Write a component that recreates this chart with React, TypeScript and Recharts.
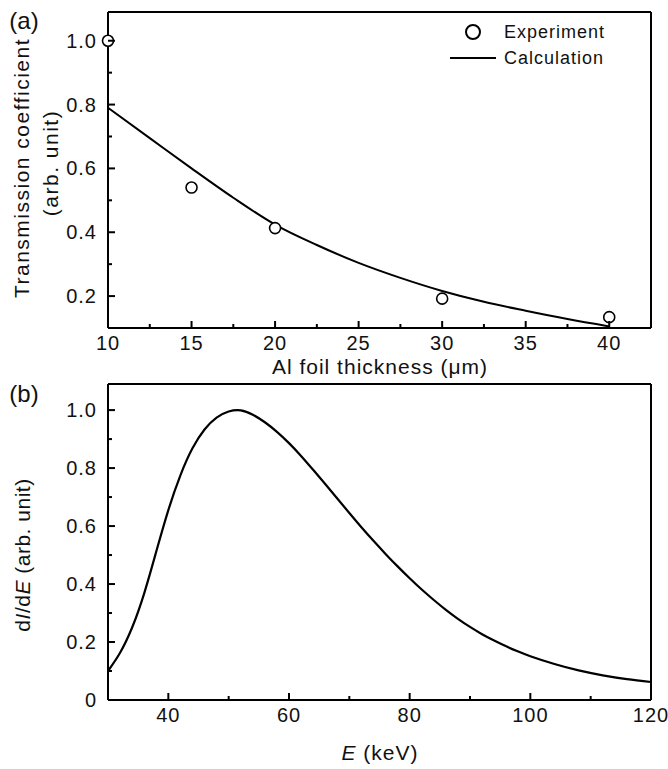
import { ComposedChart, LineChart, Line, Scatter, XAxis, YAxis, Legend } from "recharts";

// (a) transmission through Al foils
const thicknessExp = [10, 15, 20, 30, 40];
const transmissionExp = [1.0, 0.54, 0.413, 0.192, 0.134];
const thicknessCalc = [10, 12.5, 15, 17.5, 20, 22.5, 25, 27.5, 30, 32.5, 35, 37.5, 40];
const transmissionCalc = [0.79, 0.695, 0.6, 0.508, 0.424, 0.36, 0.304, 0.257, 0.216, 0.182, 0.154, 0.128, 0.105];

// (b) spectrum dI/dE
const energy = [30, 32, 34, 36, 38, 40, 42, 44, 46, 48, 50, 52, 54, 56, 58, 60, 62, 64, 66, 68, 70, 72, 74, 76, 78, 80, 82, 84, 86, 88, 90, 92, 94, 96, 98, 100, 104, 108, 112, 116, 120];
const spectrum = [0.1, 0.163, 0.25, 0.368, 0.512, 0.655, 0.775, 0.868, 0.933, 0.974, 0.995, 0.999, 0.984, 0.958, 0.925, 0.886, 0.842, 0.794, 0.745, 0.695, 0.645, 0.596, 0.549, 0.504, 0.461, 0.42, 0.381, 0.345, 0.311, 0.28, 0.252, 0.227, 0.205, 0.185, 0.167, 0.151, 0.124, 0.102, 0.085, 0.072, 0.062];

const aXTicks = [10, 12.5, 15, 17.5, 20, 22.5, 25, 27.5, 30, 32.5, 35, 37.5, 40];
const aXMajor = [10, 15, 20, 25, 30, 35, 40];
const aYTicks = [0.2, 0.3, 0.4, 0.5, 0.6, 0.7, 0.8, 0.9, 1.0];
const aYMajor = [0.2, 0.4, 0.6, 0.8, 1.0];
const bXTicks = [40, 50, 60, 70, 80, 90, 100, 110, 120];
const bXMajor = [40, 60, 80, 100, 120];
const bYTicks = [0, 0.1, 0.2, 0.3, 0.4, 0.5, 0.6, 0.7, 0.8, 0.9, 1.0];
const bYMajor = [0, 0.2, 0.4, 0.6, 0.8, 1.0];

const expData = thicknessExp.map((x, i) => ({ x, y: transmissionExp[i] }));
const calcData = thicknessCalc.map((x, i) => ({ x, y: transmissionCalc[i] }));
const specData = energy.map((e, i) => ({ e, v: spectrum[i] }));

const FONT = "'Liberation Sans', Arial, sans-serif";
const INK = "#111";

const isIn = (list: number[], v: number) => list.some((m) => Math.abs(m - v) < 1e-6);
const fmtInt = (v: number) => String(v);
const fmtDec = (v: number) => (v === 0 ? "0" : v.toFixed(1));

function XTick(props: any) {
  const { x, y, payload, major, fmt } = props;
  const big = isIn(major, payload.value);
  return (
    <g>
      <line x1={x} y1={y} x2={x} y2={y - (big ? 7 : 4)} stroke="#000" strokeWidth={2} />
      {big && (
        <text x={x} y={y + 22} textAnchor="middle" fontSize={20} letterSpacing={1} fill={INK} fontFamily={FONT}>
          {fmt(payload.value)}
        </text>
      )}
    </g>
  );
}

function YTick(props: any) {
  const { x, y, payload, major, fmt } = props;
  const big = isIn(major, payload.value);
  return (
    <g>
      <line x1={x} y1={y} x2={x + (big ? 7 : 4)} y2={y} stroke="#000" strokeWidth={2} />
      {big && (
        <text x={x - 11} y={y + 7} textAnchor="end" fontSize={20} letterSpacing={1} fill={INK} fontFamily={FONT}>
          {fmt(payload.value)}
        </text>
      )}
    </g>
  );
}

function OpenCircle(props: any) {
  return <circle cx={props.cx} cy={props.cy} r={5.5} fill="#fff" stroke="#000" strokeWidth={1.6} />;
}

function LegendBox() {
  const row = { display: "flex", alignItems: "center", height: 26 } as const;
  return (
    <div style={{ fontFamily: FONT, fontSize: 18, letterSpacing: 1, color: INK }}>
      <div style={row}>
        <svg width={54} height={26}>
          <circle cx={23} cy={13} r={7} fill="#fff" stroke="#000" strokeWidth={2} />
        </svg>
        <span>Experiment</span>
      </div>
      <div style={row}>
        <svg width={54} height={26}>
          <line x1={0} y1={13} x2={46} y2={13} stroke="#000" strokeWidth={2} />
        </svg>
        <span>Calculation</span>
      </div>
    </div>
  );
}

const axisLine = { stroke: "#000", strokeWidth: 2 };

function Title(props: { x: number; y: number; rotate?: boolean; size?: number; spacing?: number; children: any }) {
  const { x, y, rotate, size = 21, spacing = 1, children } = props;
  return (
    <div
      style={{
        position: "absolute",
        left: x,
        top: y,
        transform: `translate(-50%, -50%)${rotate ? " rotate(-90deg)" : ""}`,
        whiteSpace: "nowrap",
        fontSize: size,
        letterSpacing: spacing,
        color: INK,
        fontFamily: FONT,
        lineHeight: 1,
      }}
    >
      {children}
    </div>
  );
}

export default function App() {
  return (
    <div style={{ position: "absolute", left: 0, top: 0, width: 668, height: 769, background: "#fff", fontFamily: FONT }}>
      <div style={{ position: "absolute", left: 0, top: 0 }}>
        <ComposedChart width={668} height={380} margin={{ top: 11, right: 16, bottom: 51, left: 107 }}>
          <XAxis
            dataKey="x"
            type="number"
            domain={[10, 42.5]}
            ticks={aXTicks}
            interval={0}
            height={1}
            tickSize={0}
            tickMargin={0}
            tickLine={false}
            axisLine={axisLine}
            tick={(p: any) => <XTick {...p} major={aXMajor} fmt={fmtInt} />}
          />
          <XAxis xAxisId="top" orientation="top" type="number" domain={[10, 42.5]} allowDataOverflow height={1} tick={false} tickLine={false} axisLine={axisLine} />
          <YAxis
            type="number"
            domain={[0.1, 1.09]}
            allowDataOverflow
            ticks={aYTicks}
            interval={0}
            width={1}
            tickSize={0}
            tickMargin={0}
            tickLine={false}
            axisLine={axisLine}
            tick={(p: any) => <YTick {...p} major={aYMajor} fmt={fmtDec} />}
          />
          <YAxis yAxisId="right" orientation="right" type="number" domain={[0.1, 1.09]} allowDataOverflow width={1} tick={false} tickLine={false} axisLine={axisLine} />
          <Legend
            layout="horizontal"
            verticalAlign="middle"
            align="center"
            content={() => <LegendBox />}
            wrapperStyle={{ position: "absolute", left: 450, top: 19, right: "auto", bottom: "auto", width: 200, height: 52 }}
          />
          <Line data={calcData} dataKey="y" name="Calculation" type="monotone" stroke="#000" strokeWidth={2} dot={false} isAnimationActive={false} />
          <Scatter data={expData} dataKey="y" name="Experiment" shape={OpenCircle} isAnimationActive={false} />
        </ComposedChart>
      </div>

      <div style={{ position: "absolute", left: 0, top: 372 }}>
        <LineChart width={668} height={397} data={specData} margin={{ top: 11, right: 16, bottom: 68, left: 107 }}>
          <XAxis
            dataKey="e"
            type="number"
            domain={[30, 120]}
            ticks={bXTicks}
            interval={0}
            height={1}
            tickSize={0}
            tickMargin={0}
            tickLine={false}
            axisLine={axisLine}
            tick={(p: any) => <XTick {...p} major={bXMajor} fmt={fmtInt} />}
          />
          <XAxis xAxisId="top" orientation="top" type="number" domain={[30, 120]} allowDataOverflow height={1} tick={false} tickLine={false} axisLine={axisLine} />
          <YAxis
            type="number"
            domain={[0, 1.09]}
            allowDataOverflow
            ticks={bYTicks}
            interval={0}
            width={1}
            tickSize={0}
            tickMargin={0}
            tickLine={false}
            axisLine={axisLine}
            tick={(p: any) => <YTick {...p} major={bYMajor} fmt={fmtDec} />}
          />
          <YAxis yAxisId="right" orientation="right" type="number" domain={[0, 1.09]} allowDataOverflow width={1} tick={false} tickLine={false} axisLine={axisLine} />
          <Line dataKey="v" type="natural" stroke="#000" strokeWidth={2.2} dot={false} isAnimationActive={false} />
        </LineChart>
      </div>

      <Title x={24} y={21} size={24} spacing={0}>(a)</Title>
      <Title x={24} y={394} size={24} spacing={0}>(b)</Title>
      <Title x={21} y={168} rotate spacing={1.5}>Transmission coefficient</Title>
      <Title x={50} y={163} rotate spacing={1.5}>(arb. unit)</Title>
      <Title x={380} y={366}>Al foil thickness (μm)</Title>
      <Title x={22} y={555} rotate spacing={0.5}>
        d<i>I</i>/d<i>E</i> (arb. unit)
      </Title>
      <Title x={380} y={752}>
        <i>E</i> (keV)
      </Title>
    </div>
  );
}
